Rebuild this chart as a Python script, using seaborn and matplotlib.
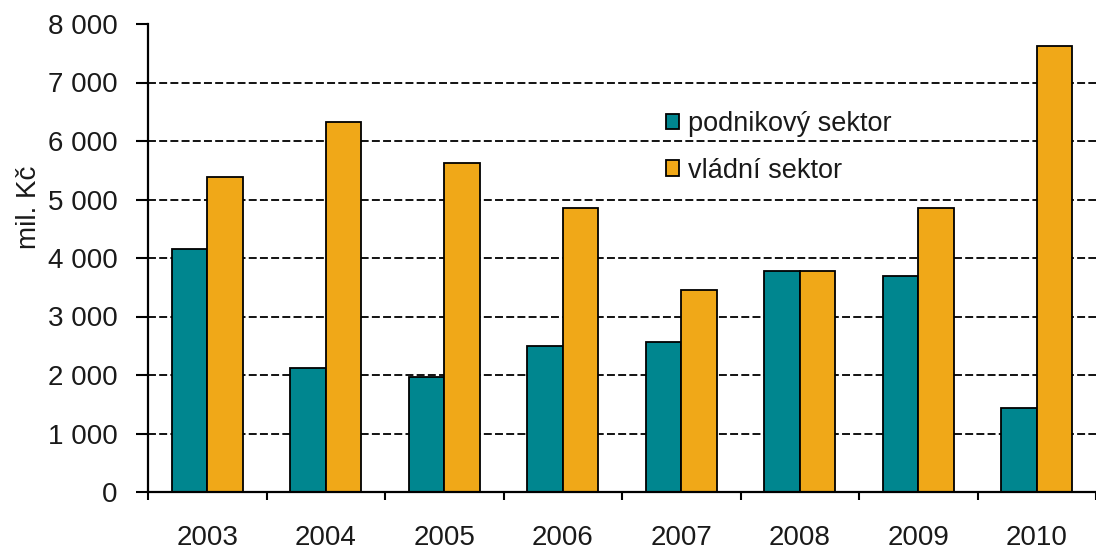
import matplotlib
matplotlib.use("Agg")
import matplotlib.pyplot as plt
import seaborn as sns
import pandas as pd
import numpy as np
from matplotlib.ticker import FuncFormatter, FixedLocator

years = ["2003", "2004", "2005", "2006", "2007", "2008", "2009", "2010"]
podnikovy = [4160, 2120, 1970, 2500, 2570, 3780, 3700, 1440]
vladni = [5390, 6320, 5620, 4850, 3460, 3780, 4850, 7620]
series_names = ["podnikový sektor", "vládní sektor"]
colors = ["#00868F", "#F0A818"]

df = pd.DataFrame({
    "rok": years * 2,
    "hodnota": podnikovy + vladni,
    "sektor": [series_names[0]] * len(years) + [series_names[1]] * len(years),
})

sns.set_style("white")
plt.rcParams["font.family"] = ["Liberation Sans", "DejaVu Sans"]
plt.rcParams["text.color"] = "#1a1a1a"
plt.rcParams["axes.labelcolor"] = "#1a1a1a"
plt.rcParams["xtick.labelcolor"] = "#1a1a1a"
plt.rcParams["ytick.labelcolor"] = "#1a1a1a"

fig = plt.figure(figsize=(10.96, 5.51), dpi=100)
ax = fig.add_axes([148 / 1096, 1 - 492 / 551, 1 - 148 / 1096, (492 - 24) / 551])

sns.barplot(data=df, x="rok", y="hodnota", hue="sektor", palette=colors,
            width=0.6, gap=0, edgecolor="black", linewidth=1.3,
            saturation=1, ax=ax, legend=True, zorder=3)

ax.set_xlim(-0.5, 7.5)
ax.set_ylim(0, 8000)
ax.set_yticks(np.arange(0, 8001, 1000))
ax.yaxis.set_major_formatter(FuncFormatter(lambda v, p: f"{int(v):,}".replace(",", " ")))
ax.set_ylabel("mil. Kč", fontsize=20)
ax.yaxis.set_label_coords(-0.112, 0.609)
ax.set_xlabel("")

for v in range(1000, 8000, 1000):
    ax.axhline(v, color="black", linestyle=(0, (4.4, 1.8)), linewidth=1.3, zorder=1)

for s in ["top", "right"]:
    ax.spines[s].set_visible(False)
for s in ["left", "bottom"]:
    ax.spines[s].set_color("black")
    ax.spines[s].set_linewidth(1.6)
    ax.spines[s].set_zorder(5)

ax.tick_params(axis="y", which="major", direction="out", length=9, width=1.5,
               color="black", labelsize=20, left=True, pad=13)
ax.tick_params(axis="x", which="major", length=0, labelsize=20, pad=24)
ax.xaxis.set_minor_locator(FixedLocator(np.arange(-0.5, 8, 1.0)))
ax.tick_params(axis="x", which="minor", direction="out", length=6, width=1.5,
               color="black", bottom=True)

handles, labels = ax.get_legend_handles_labels()
leg = ax.legend(handles, labels, loc="upper left", bbox_to_anchor=(0.521, 0.866),
                frameon=False, fontsize=19.5, handlelength=0.48, handleheight=0.48,
                handletextpad=0.33, labelspacing=0.76)

fig.savefig("out.png", dpi=100)
